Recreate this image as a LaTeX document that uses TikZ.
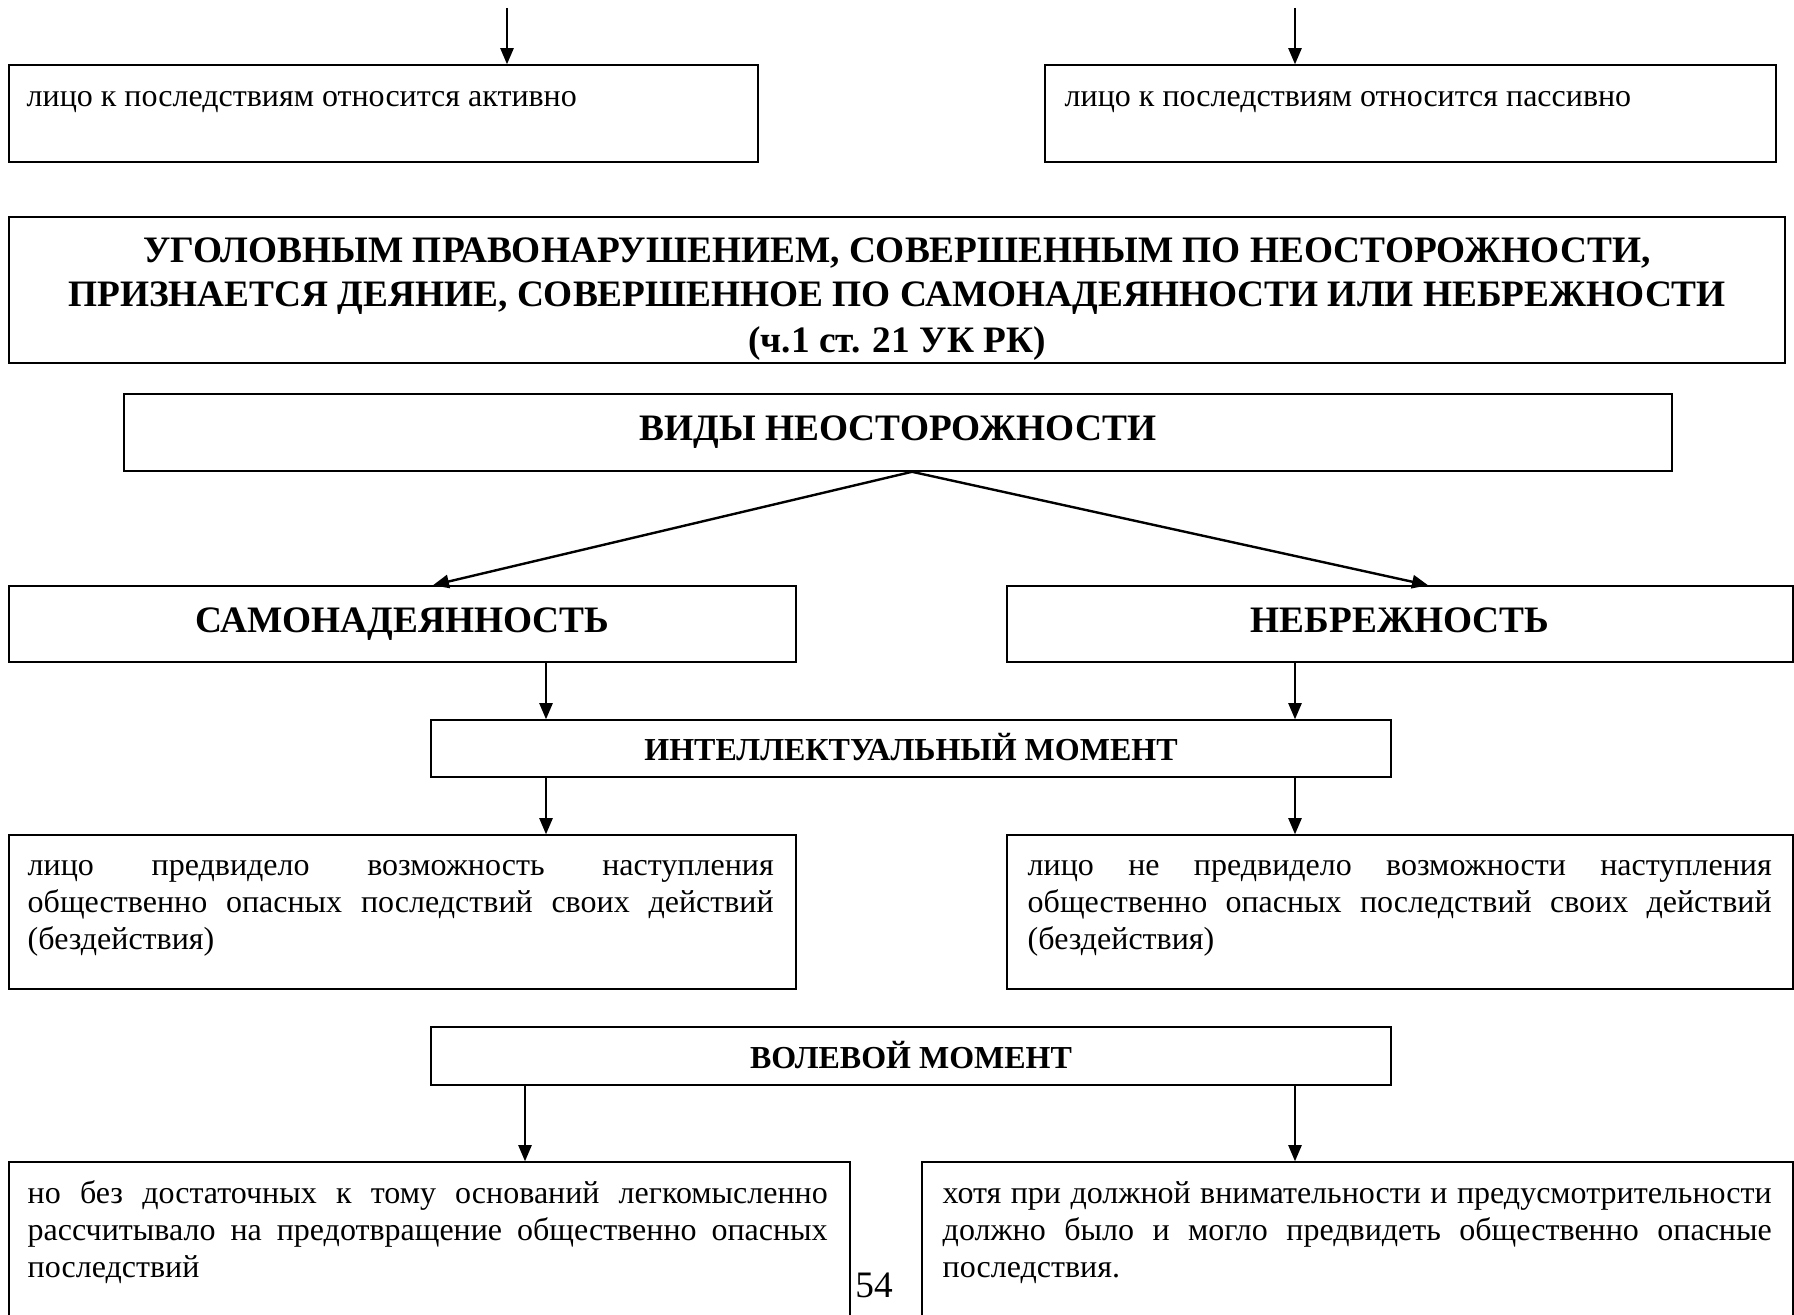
\documentclass[tikz,border=0pt]{standalone}
\usepackage{fontspec}
\setmainfont{Liberation Serif}
\usetikzlibrary{arrows.meta}

\begin{document}
\begin{tikzpicture}[x=0.375pt, y=-0.375pt,
	>={Triangle[length=6pt,width=5pt]},
	box/.style={draw, line width=0.6pt, inner sep=0pt},
	sz/.style 2 args={minimum width=#1*0.375pt, minimum height=#2*0.375pt},
	head/.style={font=\fontsize{14}{16.3}\selectfont\bfseries, text height=10pt, text depth=3.8pt},
	subhead/.style={font=\fontsize{12}{14}\selectfont\bfseries, text height=9pt, text depth=0pt},
	txt/.style={font=\fontsize{12}{13.9}\selectfont, inner sep=0pt, align=justify}]
				\useasboundingbox (0,0) rectangle (1794,1315);
				\clip (0,0) rectangle (1794,1315);
				% columns of the arrows
				\coordinate (c1) at (507,0);
				\coordinate (c2) at (1295,0);
				\coordinate (c3) at (546,0);
				\coordinate (c4) at (525,0);
				\coordinate (c5) at (912,0);
				\coordinate (c6) at (433,0);
				\coordinate (c7) at (1428,0);
				\coordinate (topA) at (507,8);
				\coordinate (topB) at (1295,8);
				% boxes
				\node[box, sz={749}{97}] (act) at (383.5,113.5) {};
				\node[box, sz={731}{97}] (pas) at (1410.5,113.5) {};
				\node[box, sz={1776}{146}] (def) at (897,290) {};
				\node[box, head, sz={1548}{77}] (vid) at (898,432.5) {ВИДЫ НЕОСТОРОЖНОСТИ};
				\node[box, head, sz={787}{76}] (sam) at (402.5,624) {САМОНАДЕЯННОСТЬ};
				\node[box, head, sz={786}{76}] (neb) at (1400,624) {НЕБРЕЖНОСТЬ};
				\node[box, subhead, sz={960}{57}] (int) at (911,748.5) {ИНТЕЛЛЕКТУАЛЬНЫЙ МОМЕНТ};
				\node[box, sz={787}{154}] (forel) at (402.5,912) {};
				\node[box, sz={786}{154}] (forer) at (1400,912) {};
				\node[box, subhead, sz={960}{58}] (vol) at (911,1056) {ВОЛЕВОЙ МОМЕНТ};
				\node[box, sz={841}{176}] (lightl) at (429.5,1250) {};
				\node[box, sz={871}{176}] (lightr) at (1357.5,1250) {};
				% texts
				\node[txt, anchor=base west] (actt) at ([shift={(18,42)}]act.north west) {лицо к последствиям относится активно};
				\node[txt, anchor=base west] (past) at ([shift={(20,42)}]pas.north west) {лицо к последствиям относится пассивно};
				\node[head, align=center, text height=, text depth=] (deft) at (897,299) {УГОЛОВНЫМ ПРАВОНАРУШЕНИЕМ, СОВЕРШЕННЫМ ПО НЕОСТОРОЖНОСТИ,\\ПРИЗНАЕТСЯ ДЕЯНИЕ, СОВЕРШЕННОЕ ПО САМОНАДЕЯННОСТИ ИЛИ НЕБРЕЖНОСТИ\\[1pt](ч.1 ст. 21 УК РК)};
				\node[txt, anchor=base west, text width=279.75pt] (forelt) at ([shift={(19,41)}]forel.north west) {лицо предвидело возможность наступления\linebreak общественно опасных последствий своих действий\linebreak (бездействия)};
				\node[txt, anchor=base west, text width=279pt] (forert) at ([shift={(21,41)}]forer.north west) {лицо не предвидело возможности наступления\linebreak общественно опасных последствий своих действий\linebreak (бездействия)};
				\node[txt, anchor=base west, text width=300pt] (lightlt) at ([shift={(19,42)}]lightl.north west) {но без достаточных к тому оснований легкомысленно\linebreak рассчитывало на предотвращение общественно опасных\linebreak последствий};
				\node[txt, anchor=base west, text width=310.9pt] (lightrt) at ([shift={(21,42)}]lightr.north west) {хотя при должной внимательности и предусмотрительности\linebreak должно было и могло предвидеть общественно опасные\linebreak последствия.};
				\node[font=\fontsize{14}{16}\selectfont, anchor=base, inner sep=0pt] (pg) at (874,1297) {54};
				% arrows
				\draw[->, line width=0.5pt] (topA) -- (act.north -| c1);
				\draw[->, line width=0.5pt] (topB) -- (pas.north -| c2);
				\draw[->, line width=0.9pt] (vid.south -| c5) -- (sam.north -| c6);
				\draw[->, line width=0.9pt] (vid.south -| c5) -- (neb.north -| c7);
				\draw[->, line width=0.5pt] (sam.south -| c3) -- (int.north -| c3);
				\draw[->, line width=0.5pt] (neb.south -| c2) -- (int.north -| c2);
				\draw[->, line width=0.5pt] (int.south -| c3) -- (forel.north -| c3);
				\draw[->, line width=0.5pt] (int.south -| c2) -- (forer.north -| c2);
				\draw[->, line width=0.5pt] (vol.south -| c4) -- (lightl.north -| c4);
				\draw[->, line width=0.5pt] (vol.south -| c2) -- (lightr.north -| c2);
			\end{tikzpicture}
\end{document}
